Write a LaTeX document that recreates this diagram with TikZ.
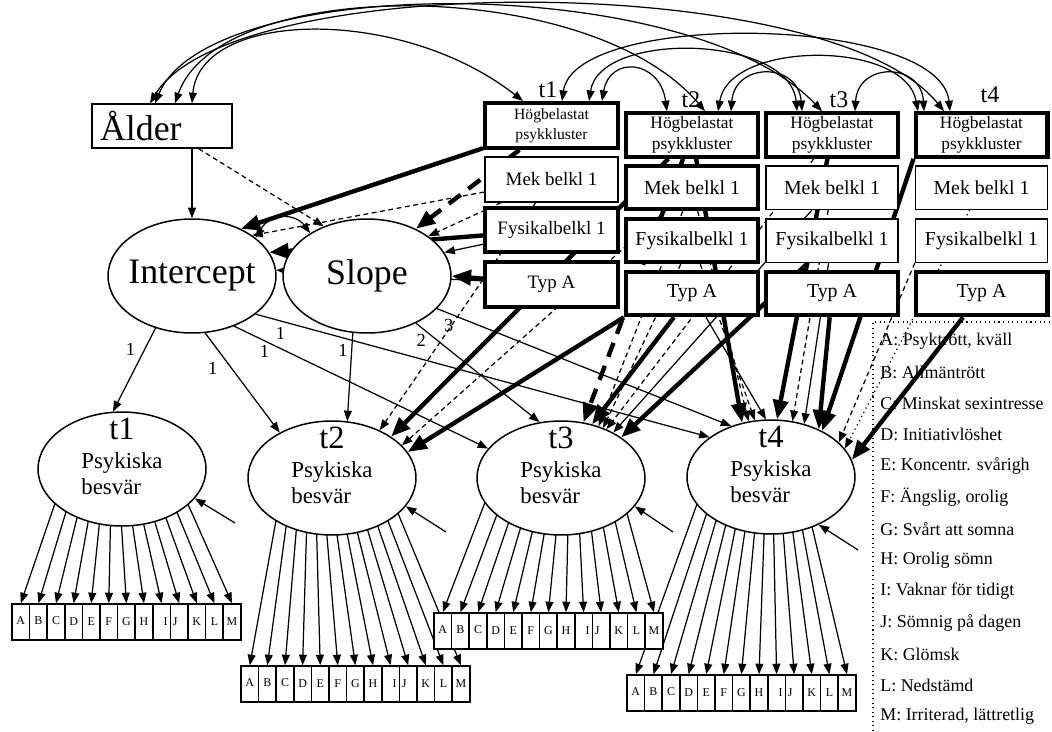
\documentclass[tikz,border=0pt]{standalone}
\usepackage{fontspec}
\setmainfont{Liberation Serif}
\usetikzlibrary{arrows.meta,shapes.geometric,calc}
\pgfdeclarelayer{bg}
\pgfsetlayers{bg,main}
\newcommand{\fsz}[2]{\fontsize{#1}{#2}\selectfont}

\tikzset{
  var/.style={draw, fill=white, line width=0.85pt, inner sep=0pt},
  obs/.style={var, rectangle, align=center, minimum width=2.64cm, minimum height=0.87cm, font=\fsz{11.3}{13.5}},
  obsT/.style={obs, line width=2.3pt},
  lat/.style={var, ellipse, minimum width=3.36cm, minimum height=2.28cm},
  ind/.style={var, minimum width=0.352cm, minimum height=0.72cm, font=\fsz{6.8}{8}},
  tlbl/.style={inner sep=0pt, font=\fsz{13.6}{16}},
  lbl/.style={inner sep=1pt, font=\fsz{10.5}{12}},
  leg/.style={inner sep=0pt, anchor=west, font=\fsz{10.2}{12}},
  reg/.style={-{Triangle[length=6pt,width=4.5pt]}, line width=0.7pt},
  regd/.style={reg, dash pattern=on 2.8pt off 2pt},
  regp/.style={reg, dotted},
  sig/.style={-{Triangle[length=11pt,width=8.5pt]}, line width=2.5pt},
  sigd/.style={sig, dash pattern=on 8.5pt off 5.5pt},
  cov/.style={{Triangle[length=6pt,width=4.5pt]}-{Triangle[length=6pt,width=4.5pt]}, line width=0.7pt}
}

\begin{document}
\begin{tikzpicture}[x=0.02cm, y=-0.02cm]
\useasboundingbox (0,0) rectangle (1052,731);
\begin{pgfonlayer}{bg}
  \fill[white] (0,0) rectangle (1052,731);
\end{pgfonlayer}

% age and growth factors
\node[obs, minimum width=2.8cm, minimum height=0.88cm, text width=2.48cm, align=left, font=\fsz{20.4}{24}] (alder) at (162,126) {Ålder};
\node[lat, font=\fsz{20.4}{24}] (icept) at (192,276) {\makebox[0pt]{Intercept}};
\node[lat, font=\fsz{20.4}{24}] (slope) at (367,276) {\makebox[0pt]{Slope}};

% Psykiska besvaer at t1..t4
\foreach \tp/\x/\y in {1/122/469, 2/332/478, 3/561/478, 4/771/477}
  \node[lat, font=\fsz{13}{14.5}] (psyk\tp) at (\x,\y)
    {\makebox[0pt]{\raisebox{0pt}[0pt][0pt]{\raisebox{2pt}{\begin{tabular}{@{}l@{}}\multicolumn{1}{@{}c@{}}{\fsz{18.5}{18.5}t\tp}\\[2pt] Psykiska\\ besvär\end{tabular}}}}};

% work conditions, first wave
\node[obsT, minimum width=2.66cm, minimum height=0.9cm, font=\fsz{8.9}{11.3}] (hog1) at (551.5,125.5) {Högbelastat\\psykkluster};
\node[obs, minimum width=2.66cm, minimum height=0.9cm, font=\fsz{10.8}{13}] (mek1) at (551.5,179.5) {Mek belkl 1};
\node[obsT, minimum width=2.66cm, minimum height=0.88cm, font=\fsz{10.8}{13}] (fys1) at (551.5,230) {Fysikalbelkl 1};
\node[obsT, minimum width=2.66cm, minimum height=0.9cm, font=\fsz{10.8}{13}] (typa1) at (551.5,284.5) {Typ A};

% work conditions, later waves
\foreach \tp/\x/\lw in {2/692/2.3pt, 3/832/0.85pt, 4/981.5/0.85pt} {
  \node[obsT, font=\fsz{9.9}{12.3}] (hog\tp) at (\x,135) {Högbelastat\\psykkluster};
  \node[obs, line width=\lw] (mek\tp) at (\x,187.5) {Mek belkl 1};
  \node[obs, line width=\lw] (fys\tp) at (\x,240.5) {Fysikalbelkl 1};
  \node[obsT] (typa\tp) at (\x,293.5) {Typ A};
}

\node[tlbl] (tl1) at (548,90) {t1};
\node[tlbl] (tl2) at (691,100) {t2};
\node[tlbl] (tl3) at (839,100) {t3};
\node[tlbl] (tl4) at (990,95) {t4};

% indicator items A..M
\foreach \tp/\x/\y in {1/12/604, 2/241/666, 3/434/613, 4/627/675}
  \foreach \l/\dx/\dy [count=\k] in {A/0/1.6, B/0/1.6, C/0/1.6, D/0/-1.4, E/0/-1, F/0/-1.4, G/0/-1.4, H/0/-1.4, I/4.6/-1, J/-4.6/-1.4, K/0/-1.4, L/0/-1.4, M/0/-1.4}
    \node[ind] (ind\tp\l) at ({\x+17.6*\k-8.8},{\y+18}) {\makebox[0pt]{\hspace*{\dx pt}\raisebox{\dy pt}{\l}}};

\coordinate (r1) at (235,523);
\coordinate (r2) at (446,532);
\coordinate (r3) at (673,532);
\coordinate (r4) at (858,550);

\begin{pgfonlayer}{bg}
  % measurement part
  \foreach \tp/\da/\db in {1/-67/66, 2/-56/66, 3/-76/66, 4/-74/41}
    \foreach \l [count=\k] in {A,...,M} {
      \pgfmathsetmacro{\dx}{\da+(\db-\da)*(\k-1)/12}
      \pgfmathsetmacro{\dy}{57*sqrt(1-(\dx/84)^2)}
      \draw[reg] ($(psyk\tp.center)+(\dx,\dy)$) -- (ind\tp\l.north);
    }
  \draw[reg] (r1) -- (psyk1.-22);
  \draw[reg] (r2) -- (psyk2.-21);
  \draw[reg] (r3) -- (psyk3.-21);
  \draw[reg] (r4) -- (psyk4.-45);

  % growth loadings
  \draw[reg] (icept.-125) -- node[lbl, pos=0.26, left=4pt] {1} (psyk1.99);
  \draw[reg] (icept.-77) -- node[lbl, pos=0.36, left=7pt] {1} (psyk2.139);
  \draw[reg] (icept.-50) -- node[lbl, pos=0.12, below=1pt] {1} (psyk3.158);
  \draw[reg] (icept.-31) -- node[lbl, pos=0.055, below=2pt] {1} (psyk4.147);
  \draw[reg] (slope.-104) -- node[lbl, pos=0.2, left=1pt] {1} (psyk2.75);
  \draw[reg] (slope.-44) -- node[lbl, pos=0.17, left=5pt] {2} (psyk3.111);
  \draw[reg] (slope.-25) -- node[lbl, pos=0.04, below=2pt] {3} (psyk4.128);

  \draw[reg] (alder.south -| icept.north) -- (icept.north);
  \draw[cov] (icept.31) .. controls +(15,-25) and +(-15,-20) .. (slope.143);

  % covariates
  \foreach \s/\e in {hog1/icept.44, fys1/icept.17, hog2/psyk2.35, typa2.south west/psyk2.19,
      typa2/psyk3.60, fys3/psyk3.34, hog2/psyk4.118, hog3/psyk4.84, typa3/psyk4.45,
      hog4.south west/psyk4.42, typa4/psyk4.12}
    \draw[sig] (\s) -- (\e);
  \foreach \s/\e in {hog1/slope.44, typa1/slope.0, hog2/psyk3.68}
    \draw[sigd] (\s) -- (\e);
  \foreach \s/\e in {fys1/slope.17, typa1/icept.4, mek3/psyk3.41, typa2/psyk4.95, fys3/psyk4.58}
    \draw[reg] (\s) -- (\e);
  \foreach \s/\e in {alder/slope.131, mek1/icept.34, mek1/slope.33, mek1/psyk2.45, mek2/psyk2.25,
      mek2/psyk3.54, fys2/psyk3.50, hog3/psyk3.47, mek2/psyk4.112, fys2/psyk4.106,
      mek3/psyk4.69, fys4.south west/psyk4.27}
    \draw[regd] (\s) -- (\e);
  \draw[regp] (mek4) -- (psyk4.21);

  % correlations
  \draw[cov] ($(alder.north)+(30,0)$) .. controls (200,10) and (400,5) .. ($(hog1.north)+(-28.5,0)$);
  \draw[cov] ($(alder.north)+(13,0)$) .. controls (220,-25) and (590,-25) .. ($(hog2.north)+(13,0)$);
  \draw[cov] ($(alder.north)+(-7,0)$) .. controls (210,-28) and (690,-28) .. ($(hog3.north)+(-10,0)$);
  \draw[cov] ($(alder.north)+(-12,0)$) .. controls (230,-30) and (830,-30) .. ($(hog4.north)+(-37.5,0)$);
  \draw[cov] ($(hog1.north)+(50.5,0)$) .. controls (610,55) and (660,60) .. ($(hog2.north)+(-25,0)$);
  \draw[cov] ($(hog1.north)+(37.5,0)$) .. controls (600,30) and (790,35) .. ($(hog3.north)+(-35,0)$);
  \draw[cov] ($(hog1.north)+(10.5,0)$) .. controls (575,10) and (940,15) .. ($(hog4.north)+(-31.5,0)$);
  \draw[cov] ($(hog2.north)+(26,0)$) .. controls (730,40) and (905,40) .. ($(hog4.north)+(-63.5,0)$);
  \draw[cov] ($(hog2.north)+(39,0)$) .. controls (735,62) and (798,62) .. ($(hog3.north)+(-30,0)$);
  \draw[cov] ($(hog3.north)+(23,0)$) .. controls (858,62) and (921,62) .. ($(hog4.north)+(-57.5,0)$);
\end{pgfonlayer}

% legend
\draw[dotted, line width=0.6pt] (873,731) -- (873,322) -- (1052,322);
\foreach \txt [count=\k] in {{A: Psyktrött, kväll}, {B: Allmäntrött}, {C: Minskat sexintresse},
    {D: Initiativlöshet}, {E: Koncentr. svårigh}, {F: Ängslig, orolig}, {G: Svårt att somna},
    {H: Orolig sömn}, {I: Vaknar för tidigt}, {J: Sömnig på dagen}, {K: Glömsk},
    {L: Nedstämd}, {M: Irriterad, lättretlig}}
  \node[leg] (leg\k) at (880,{341+31.3*(\k-1)}) {\txt};
\end{tikzpicture}
\end{document}
